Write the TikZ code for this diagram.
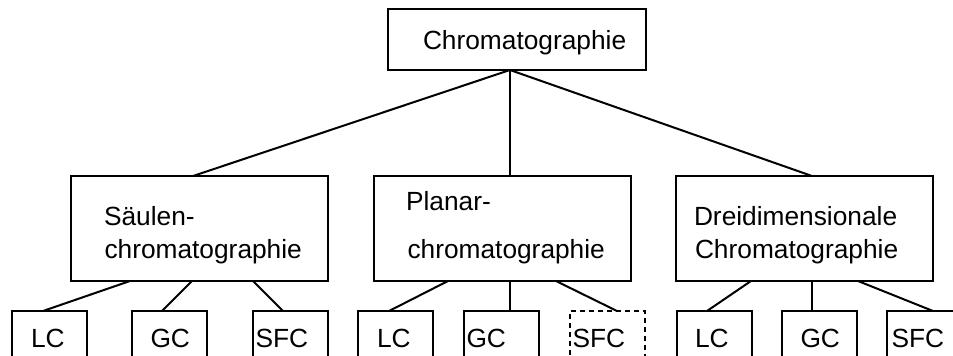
\documentclass[tikz,border=0pt]{standalone}
\usepackage{fontspec}
\setmainfont{Liberation Sans}
\begin{document}
\begin{tikzpicture}[x=1pt,y=-1pt,line width=2pt,
  box/.style={draw,rectangle,inner sep=0pt,outer sep=0pt},
  leaf/.style={box,minimum width=75pt,minimum height=90pt},
  mid/.style={box,minimum width=257pt,minimum height=105pt},
  lbl/.style={anchor=base west,inner sep=0pt,outer sep=0pt,font=\fontsize{26.3}{30}\selectfont}]
\useasboundingbox (0,0) rectangle (953,356);
\clip (0,0) rectangle (953,356);

% boxes
\node[box,minimum width=258pt,minimum height=61pt] (top) at (517,39.5) {};
\node[mid] (saeulen) at (199.5,228.5) {};
\node[mid] (planar) at (502,228.5) {};
\node[mid] (dreid) at (804.5,228.5) {};

\node[leaf] (lc1) at (49.5,356) {};
\node[leaf] (gc1) at (169.5,356) {};
\node[leaf] (sfc1) at (290,356) {};
\node[leaf] (lc2) at (395.5,356) {};
\node[leaf] (gc2) at (501.5,356) {};
\node[leaf,dash pattern=on 5pt off 4pt] (sfc2) at (607.5,356) {};
\node[leaf] (lc3) at (714,356) {};
\node[leaf] (gc3) at (819.5,356) {};
\node[leaf] (sfc3) at (924.5,356) {};

% labels
\node[lbl] (tTop) at (423,49) {Chromatographie};
\node[lbl] (tS1) at (104,225.5) {Säulen-};
\node[lbl] (tS2) at (104.5,258.5) {chromatographie};
\node[lbl] (tP1) at (406,210) {Planar-};
\node[lbl] (tP2) at (407.5,258.5) {chromatographie};
\node[lbl] (tD1) at (694,225.5) {Dreidimensionale};
\node[lbl] (tD2) at (695,258) {Chromatographie};

\node[lbl] (tLC1) at (31,347) {LC};
\node[lbl] (tGC1) at (150.5,347) {GC};
\node[lbl] (tSFC1) at (255.5,347) {SFC};
\node[lbl] (tLC2) at (377,347) {LC};
\node[lbl] (tGC2) at (466.5,347) {GC};
\node[lbl] (tSFC2) at (572.5,347) {SFC};
\node[lbl] (tLC3) at (695,347) {LC};
\node[lbl] (tGC3) at (800.5,347) {GC};
\node[lbl] (tSFC3) at (891.5,347) {SFC};

% connectors from the root
\draw ([xshift=122pt]top.south west) -- ([xshift=-6.5pt]saeulen.north);
\draw ([xshift=122pt]top.south west) -- ([xshift=8pt]planar.north);
\draw ([xshift=122pt]top.south west) -- ([xshift=7.5pt]dreid.north);

% connectors to the leaves
\draw ([xshift=-69.5pt]saeulen.south) -- ([xshift=-6.5pt]lc1.north);
\draw ([xshift=-7.5pt]saeulen.south) -- ([xshift=-7.5pt]gc1.north);
\draw ([xshift=53.5pt]saeulen.south) -- ([xshift=-7pt]sfc1.north);

\draw ([xshift=-54pt]planar.south) -- ([xshift=-6.5pt]lc2.north);
\draw ([xshift=8pt]planar.south) -- ([xshift=8.5pt]gc2.north);
\draw ([xshift=54pt]planar.south) -- ([xshift=9.5pt]sfc2.north);

\draw ([xshift=-53.5pt]dreid.south) -- ([xshift=-7pt]lc3.north);
\draw ([xshift=7.5pt]dreid.south) -- ([xshift=-7.5pt]gc3.north);
\draw ([xshift=53.5pt]dreid.south) -- ([xshift=8.5pt]sfc3.north);
\end{tikzpicture}
\end{document}
